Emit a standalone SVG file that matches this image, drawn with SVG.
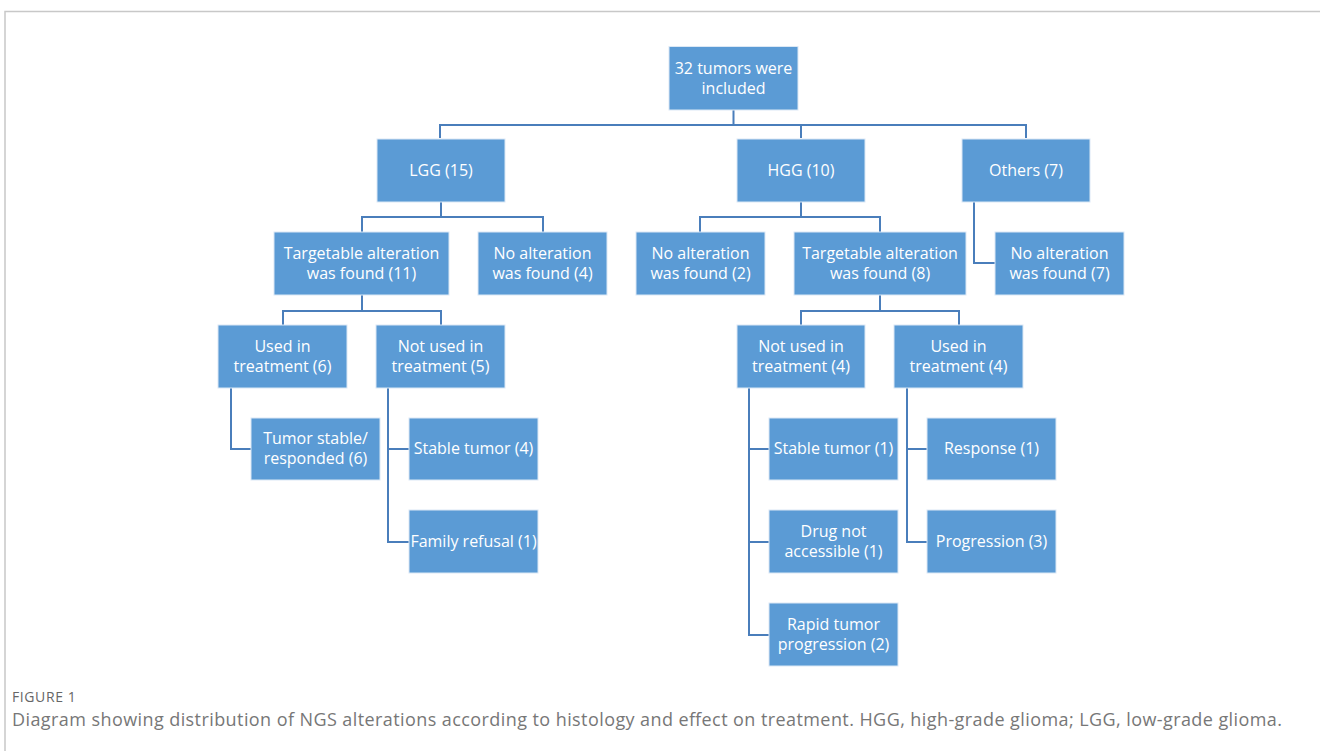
<svg xmlns="http://www.w3.org/2000/svg" width="1320" height="751" viewBox="0 0 1320 751">
<style>
.box{fill:#5b9bd5;stroke:#dbe8f5;stroke-width:1}
.t{fill:#ffffff;font-family:"Open Sans","Liberation Sans",sans-serif;font-size:16px;text-anchor:middle}
.c{fill:none;stroke:#4a7ebb;stroke-width:2}
.frame{fill:none;stroke:#c8c8c8;stroke-width:1.5}
.cap1{fill:#666;font-family:"Open Sans","Liberation Sans",sans-serif;font-size:14px;letter-spacing:0.6px}
.cap2{fill:#777;font-family:"Open Sans","Liberation Sans",sans-serif;font-size:18px}
</style>
<rect width="1320" height="751" fill="#fff"/>
<path class="frame" d="M5,751 V11.5 H1320"/>
<g id="connectors">
<path class="c" d="M733.5,110 V125 M440,138 V125 H1026 V138 M801,125 V138"/>
<path class="c" d="M441,202 V217 M362,232 V217 H543 V232"/>
<path class="c" d="M801,202 V217 M700,232 V217 H880 V232"/>
<path class="c" d="M974,202 V263 H995"/>
<path class="c" d="M362,295 V311 M283,325 V311 H441 V325"/>
<path class="c" d="M880,295 V311 M801,325 V311 H959 V325"/>
<path class="c" d="M231,388 V449 H251"/>
<path class="c" d="M388,388 V542 H409 M388,449 H409"/>
<path class="c" d="M749,388 V635 H769 M749,449 H769 M749,542 H769"/>
<path class="c" d="M907,388 V542 H927 M907,449 H927"/>
</g>
<g id="n-root"><rect class="box" x="669" y="46.5" width="129" height="63.5"/><text class="t" x="733.5" y="74">32 tumors were</text><text class="t" x="733.5" y="94">included</text></g>
<g id="n-lgg"><rect class="box" x="377" y="139" width="128" height="63"/><text class="t" x="441" y="176">LGG (15)</text></g>
<g id="n-hgg"><rect class="box" x="737" y="139" width="128" height="63"/><text class="t" x="801" y="176">HGG (10)</text></g>
<g id="n-others"><rect class="box" x="962" y="139" width="128" height="63"/><text class="t" x="1026" y="176">Others (7)</text></g>
<g id="n-lgg-target"><rect class="box" x="274" y="232" width="175" height="63"/><text class="t" x="361.5" y="259">Targetable alteration</text><text class="t" x="361.5" y="279">was found (11)</text></g>
<g id="n-lgg-noalt"><rect class="box" x="478" y="232" width="129" height="63"/><text class="t" x="542.5" y="259">No alteration</text><text class="t" x="542.5" y="279">was found (4)</text></g>
<g id="n-hgg-noalt"><rect class="box" x="636" y="232" width="129" height="63"/><text class="t" x="700.5" y="259">No alteration</text><text class="t" x="700.5" y="279">was found (2)</text></g>
<g id="n-hgg-target"><rect class="box" x="794" y="232" width="172" height="63"/><text class="t" x="880" y="259">Targetable alteration</text><text class="t" x="880" y="279">was found (8)</text></g>
<g id="n-oth-noalt"><rect class="box" x="995" y="232" width="129" height="63"/><text class="t" x="1059.5" y="259">No alteration</text><text class="t" x="1059.5" y="279">was found (7)</text></g>
<g id="n-lgg-used"><rect class="box" x="218" y="325" width="129" height="63"/><text class="t" x="282.5" y="352">Used in</text><text class="t" x="282.5" y="372">treatment (6)</text></g>
<g id="n-lgg-notused"><rect class="box" x="376" y="325" width="129" height="63"/><text class="t" x="440.5" y="352">Not used in</text><text class="t" x="440.5" y="372">treatment (5)</text></g>
<g id="n-hgg-notused"><rect class="box" x="737" y="325" width="128" height="63"/><text class="t" x="801" y="352">Not used in</text><text class="t" x="801" y="372">treatment (4)</text></g>
<g id="n-hgg-used"><rect class="box" x="894" y="325" width="129" height="63"/><text class="t" x="958.5" y="352">Used in</text><text class="t" x="958.5" y="372">treatment (4)</text></g>
<g id="n-lgg-stable-resp"><rect class="box" x="251" y="418" width="129" height="62"/><text class="t" x="315.5" y="444">Tumor stable/</text><text class="t" x="315.5" y="464">responded (6)</text></g>
<g id="n-lgg-stable"><rect class="box" x="409" y="418" width="129" height="62"/><text class="t" x="473.5" y="454">Stable tumor (4)</text></g>
<g id="n-lgg-refusal"><rect class="box" x="409" y="510" width="129" height="63"/><text class="t" x="473.5" y="547">Family refusal (1)</text></g>
<g id="n-hgg-stable"><rect class="box" x="769" y="418" width="129" height="62"/><text class="t" x="833.5" y="454">Stable tumor (1)</text></g>
<g id="n-hgg-drug"><rect class="box" x="769" y="510" width="129" height="63"/><text class="t" x="833.5" y="537">Drug not</text><text class="t" x="833.5" y="557">accessible (1)</text></g>
<g id="n-hgg-rapid"><rect class="box" x="769" y="603" width="129" height="63"/><text class="t" x="833.5" y="630">Rapid tumor</text><text class="t" x="833.5" y="650">progression (2)</text></g>
<g id="n-hgg-response"><rect class="box" x="927" y="418" width="129" height="62"/><text class="t" x="991.5" y="454">Response (1)</text></g>
<g id="n-hgg-prog"><rect class="box" x="927" y="510" width="129" height="63"/><text class="t" x="991.5" y="547">Progression (3)</text></g>
<text class="cap1" x="12" y="702">FIGURE 1</text>
<text class="cap2" x="12" y="726" textLength="1270" lengthAdjust="spacing">Diagram showing distribution of NGS alterations according to histology and effect on treatment. HGG, high-grade glioma; LGG, low-grade glioma.</text>
</svg>
